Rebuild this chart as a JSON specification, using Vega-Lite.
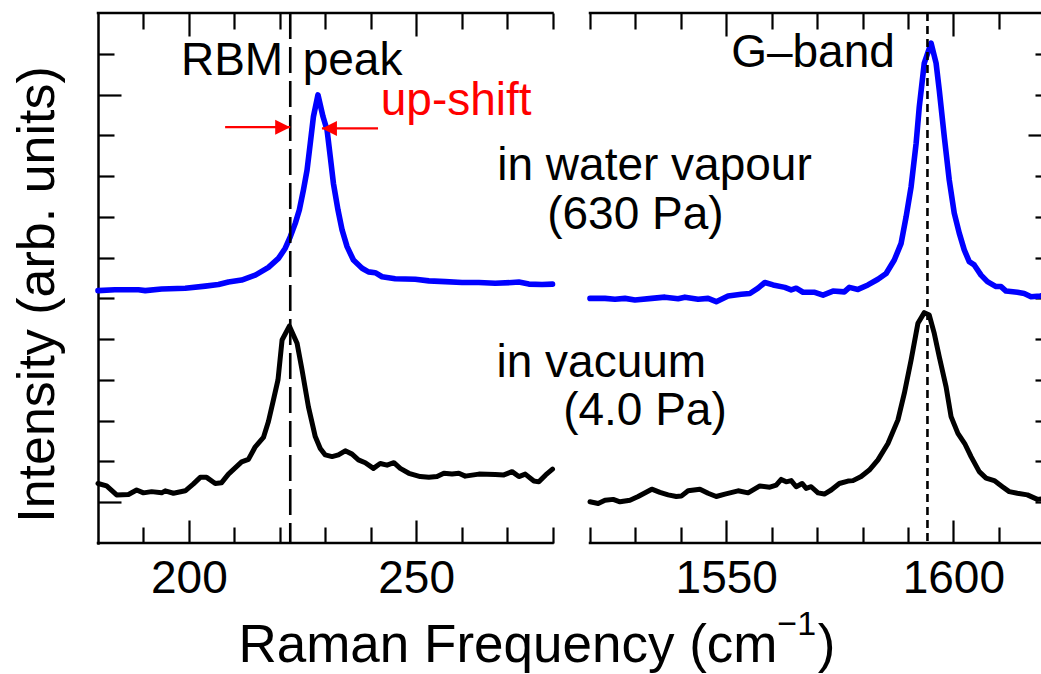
{
  "$schema": "https://vega.github.io/schema/vega-lite/v6.json",
  "width": 943,
  "height": 530,
  "autosize": {"type": "none"},
  "padding": {"left": 98, "top": 13, "right": 0, "bottom": 131},
  "background": "white",
  "config": {"view": {"stroke": null}, "font": "Liberation Sans", "axis": {"grid": false}},
  "datasets": {
    "frame": [
      {"panel": "RBM", "edge": 0, "x0": 180, "x1": 280},
      {"panel": "RBM", "edge": 13, "x0": 180, "x1": 280},
      {"panel": "G", "edge": 0, "x0": 1520, "x1": 1621.5},
      {"panel": "G", "edge": 13, "x0": 1520, "x1": 1621.5}
    ],
    "markers": [
      {"band": "RBM", "x": 222.3},
      {"band": "G", "x": 1594.3}
    ],
    "arrows": [
      {"dir": "right", "from": 207.97, "to": 222.29, "y": 10.2},
      {"dir": "left", "from": 241.61, "to": 229.27, "y": 10.17}
    ],
    "annot": [
      {"label": "RBM", "x": 209.5, "y": 11.48},
      {"label": "peak", "x": 236.0, "y": 11.48},
      {"label": "in water vapour", "x": 1534.2, "y": 8.9},
      {"label": "(630 Pa)", "x": 1530.0, "y": 7.71},
      {"label": "in vacuum", "x": 1522.5, "y": 4.08},
      {"label": "(4.0 Pa)", "x": 1532.1, "y": 2.89},
      {"label": "G\u2013band", "x": 1569.1, "y": 11.68}
    ],
    "redannot": [
      {"label": "up-shift", "x": 258.8, "y": 10.5}
    ],
    "xtitle": [
      {"label": "Raman Frequency (cm", "x": 270.2, "y": -2.92},
      {"label": ")", "x": 1572.1, "y": -2.92}
    ],
    "xtitlesup": [
      {"label": "\u22121", "x": 1565.5, "y": -2.26}
    ],
    "spectra": [
      {"panel": "RBM", "condition": "in water vapour (630 Pa)", "x": 180, "y": 6.19},
      {"panel": "RBM", "condition": "in water vapour (630 Pa)", "x": 183.7, "y": 6.21},
      {"panel": "RBM", "condition": "in water vapour (630 Pa)", "x": 188.9, "y": 6.21},
      {"panel": "RBM", "condition": "in water vapour (630 Pa)", "x": 190.4, "y": 6.19},
      {"panel": "RBM", "condition": "in water vapour (630 Pa)", "x": 194.0, "y": 6.23},
      {"panel": "RBM", "condition": "in water vapour (630 Pa)", "x": 199.2, "y": 6.25},
      {"panel": "RBM", "condition": "in water vapour (630 Pa)", "x": 203.6, "y": 6.30},
      {"panel": "RBM", "condition": "in water vapour (630 Pa)", "x": 206.5, "y": 6.34},
      {"panel": "RBM", "condition": "in water vapour (630 Pa)", "x": 208.7, "y": 6.40},
      {"panel": "RBM", "condition": "in water vapour (630 Pa)", "x": 211.6, "y": 6.45},
      {"panel": "RBM", "condition": "in water vapour (630 Pa)", "x": 214.6, "y": 6.57},
      {"panel": "RBM", "condition": "in water vapour (630 Pa)", "x": 217.5, "y": 6.76},
      {"panel": "RBM", "condition": "in water vapour (630 Pa)", "x": 219.7, "y": 6.98},
      {"panel": "RBM", "condition": "in water vapour (630 Pa)", "x": 221.2, "y": 7.23},
      {"panel": "RBM", "condition": "in water vapour (630 Pa)", "x": 222.3, "y": 7.51},
      {"panel": "RBM", "condition": "in water vapour (630 Pa)", "x": 223.4, "y": 7.84},
      {"panel": "RBM", "condition": "in water vapour (630 Pa)", "x": 224.3, "y": 8.17},
      {"panel": "RBM", "condition": "in water vapour (630 Pa)", "x": 225.2, "y": 8.66},
      {"panel": "RBM", "condition": "in water vapour (630 Pa)", "x": 226.0, "y": 9.15},
      {"panel": "RBM", "condition": "in water vapour (630 Pa)", "x": 226.7, "y": 9.80},
      {"panel": "RBM", "condition": "in water vapour (630 Pa)", "x": 227.4, "y": 10.46},
      {"panel": "RBM", "condition": "in water vapour (630 Pa)", "x": 228.4, "y": 10.99},
      {"panel": "RBM", "condition": "in water vapour (630 Pa)", "x": 229.5, "y": 10.46},
      {"panel": "RBM", "condition": "in water vapour (630 Pa)", "x": 230.4, "y": 10.13},
      {"panel": "RBM", "condition": "in water vapour (630 Pa)", "x": 231.1, "y": 9.48},
      {"panel": "RBM", "condition": "in water vapour (630 Pa)", "x": 231.8, "y": 8.82},
      {"panel": "RBM", "condition": "in water vapour (630 Pa)", "x": 232.8, "y": 8.17},
      {"panel": "RBM", "condition": "in water vapour (630 Pa)", "x": 233.7, "y": 7.68},
      {"panel": "RBM", "condition": "in water vapour (630 Pa)", "x": 234.8, "y": 7.27},
      {"panel": "RBM", "condition": "in water vapour (630 Pa)", "x": 236.2, "y": 6.94},
      {"panel": "RBM", "condition": "in water vapour (630 Pa)", "x": 238.1, "y": 6.74},
      {"panel": "RBM", "condition": "in water vapour (630 Pa)", "x": 239.5, "y": 6.65},
      {"panel": "RBM", "condition": "in water vapour (630 Pa)", "x": 241.0, "y": 6.63},
      {"panel": "RBM", "condition": "in water vapour (630 Pa)", "x": 242.5, "y": 6.53},
      {"panel": "RBM", "condition": "in water vapour (630 Pa)", "x": 245.4, "y": 6.48},
      {"panel": "RBM", "condition": "in water vapour (630 Pa)", "x": 249.8, "y": 6.47},
      {"panel": "RBM", "condition": "in water vapour (630 Pa)", "x": 252.8, "y": 6.43},
      {"panel": "RBM", "condition": "in water vapour (630 Pa)", "x": 256.4, "y": 6.41},
      {"panel": "RBM", "condition": "in water vapour (630 Pa)", "x": 260.1, "y": 6.39},
      {"panel": "RBM", "condition": "in water vapour (630 Pa)", "x": 263.8, "y": 6.39},
      {"panel": "RBM", "condition": "in water vapour (630 Pa)", "x": 267.4, "y": 6.37},
      {"panel": "RBM", "condition": "in water vapour (630 Pa)", "x": 271.1, "y": 6.39},
      {"panel": "RBM", "condition": "in water vapour (630 Pa)", "x": 272.6, "y": 6.40},
      {"panel": "RBM", "condition": "in water vapour (630 Pa)", "x": 274.8, "y": 6.35},
      {"panel": "RBM", "condition": "in water vapour (630 Pa)", "x": 277.7, "y": 6.34},
      {"panel": "RBM", "condition": "in water vapour (630 Pa)", "x": 280, "y": 6.35},
      {"panel": "RBM", "condition": "in vacuum (4.0 Pa)", "x": 180, "y": 1.46},
      {"panel": "RBM", "condition": "in vacuum (4.0 Pa)", "x": 181.9, "y": 1.40},
      {"panel": "RBM", "condition": "in vacuum (4.0 Pa)", "x": 184.1, "y": 1.18},
      {"panel": "RBM", "condition": "in vacuum (4.0 Pa)", "x": 186.7, "y": 1.19},
      {"panel": "RBM", "condition": "in vacuum (4.0 Pa)", "x": 188.5, "y": 1.30},
      {"panel": "RBM", "condition": "in vacuum (4.0 Pa)", "x": 190.0, "y": 1.23},
      {"panel": "RBM", "condition": "in vacuum (4.0 Pa)", "x": 191.8, "y": 1.26},
      {"panel": "RBM", "condition": "in vacuum (4.0 Pa)", "x": 194.0, "y": 1.23},
      {"panel": "RBM", "condition": "in vacuum (4.0 Pa)", "x": 194.8, "y": 1.28},
      {"panel": "RBM", "condition": "in vacuum (4.0 Pa)", "x": 196.6, "y": 1.22},
      {"panel": "RBM", "condition": "in vacuum (4.0 Pa)", "x": 199.2, "y": 1.28},
      {"panel": "RBM", "condition": "in vacuum (4.0 Pa)", "x": 201.0, "y": 1.45},
      {"panel": "RBM", "condition": "in vacuum (4.0 Pa)", "x": 202.5, "y": 1.61},
      {"panel": "RBM", "condition": "in vacuum (4.0 Pa)", "x": 203.9, "y": 1.61},
      {"panel": "RBM", "condition": "in vacuum (4.0 Pa)", "x": 205.8, "y": 1.46},
      {"panel": "RBM", "condition": "in vacuum (4.0 Pa)", "x": 207.2, "y": 1.48},
      {"panel": "RBM", "condition": "in vacuum (4.0 Pa)", "x": 208.7, "y": 1.69},
      {"panel": "RBM", "condition": "in vacuum (4.0 Pa)", "x": 211.6, "y": 1.99},
      {"panel": "RBM", "condition": "in vacuum (4.0 Pa)", "x": 213.1, "y": 2.05},
      {"panel": "RBM", "condition": "in vacuum (4.0 Pa)", "x": 214.6, "y": 2.36},
      {"panel": "RBM", "condition": "in vacuum (4.0 Pa)", "x": 216.4, "y": 2.59},
      {"panel": "RBM", "condition": "in vacuum (4.0 Pa)", "x": 217.5, "y": 2.98},
      {"panel": "RBM", "condition": "in vacuum (4.0 Pa)", "x": 218.6, "y": 3.51},
      {"panel": "RBM", "condition": "in vacuum (4.0 Pa)", "x": 219.6, "y": 4.00},
      {"panel": "RBM", "condition": "in vacuum (4.0 Pa)", "x": 220.5, "y": 4.98},
      {"panel": "RBM", "condition": "in vacuum (4.0 Pa)", "x": 222.1, "y": 5.32},
      {"panel": "RBM", "condition": "in vacuum (4.0 Pa)", "x": 223.8, "y": 4.90},
      {"panel": "RBM", "condition": "in vacuum (4.0 Pa)", "x": 224.9, "y": 4.24},
      {"panel": "RBM", "condition": "in vacuum (4.0 Pa)", "x": 226.3, "y": 3.34},
      {"panel": "RBM", "condition": "in vacuum (4.0 Pa)", "x": 227.8, "y": 2.61},
      {"panel": "RBM", "condition": "in vacuum (4.0 Pa)", "x": 228.9, "y": 2.32},
      {"panel": "RBM", "condition": "in vacuum (4.0 Pa)", "x": 230.0, "y": 2.16},
      {"panel": "RBM", "condition": "in vacuum (4.0 Pa)", "x": 231.5, "y": 2.12},
      {"panel": "RBM", "condition": "in vacuum (4.0 Pa)", "x": 232.9, "y": 2.16},
      {"panel": "RBM", "condition": "in vacuum (4.0 Pa)", "x": 234.4, "y": 2.26},
      {"panel": "RBM", "condition": "in vacuum (4.0 Pa)", "x": 235.9, "y": 2.18},
      {"panel": "RBM", "condition": "in vacuum (4.0 Pa)", "x": 237.3, "y": 2.04},
      {"panel": "RBM", "condition": "in vacuum (4.0 Pa)", "x": 238.8, "y": 1.97},
      {"panel": "RBM", "condition": "in vacuum (4.0 Pa)", "x": 240.6, "y": 1.83},
      {"panel": "RBM", "condition": "in vacuum (4.0 Pa)", "x": 242.1, "y": 1.95},
      {"panel": "RBM", "condition": "in vacuum (4.0 Pa)", "x": 243.6, "y": 1.91},
      {"panel": "RBM", "condition": "in vacuum (4.0 Pa)", "x": 245.1, "y": 1.97},
      {"panel": "RBM", "condition": "in vacuum (4.0 Pa)", "x": 246.5, "y": 1.83},
      {"panel": "RBM", "condition": "in vacuum (4.0 Pa)", "x": 248.4, "y": 1.71},
      {"panel": "RBM", "condition": "in vacuum (4.0 Pa)", "x": 250.9, "y": 1.63},
      {"panel": "RBM", "condition": "in vacuum (4.0 Pa)", "x": 252.8, "y": 1.61},
      {"panel": "RBM", "condition": "in vacuum (4.0 Pa)", "x": 254.6, "y": 1.63},
      {"panel": "RBM", "condition": "in vacuum (4.0 Pa)", "x": 256.1, "y": 1.71},
      {"panel": "RBM", "condition": "in vacuum (4.0 Pa)", "x": 257.9, "y": 1.69},
      {"panel": "RBM", "condition": "in vacuum (4.0 Pa)", "x": 259.4, "y": 1.71},
      {"panel": "RBM", "condition": "in vacuum (4.0 Pa)", "x": 260.8, "y": 1.64},
      {"panel": "RBM", "condition": "in vacuum (4.0 Pa)", "x": 263.8, "y": 1.69},
      {"panel": "RBM", "condition": "in vacuum (4.0 Pa)", "x": 267.4, "y": 1.68},
      {"panel": "RBM", "condition": "in vacuum (4.0 Pa)", "x": 269.3, "y": 1.67},
      {"panel": "RBM", "condition": "in vacuum (4.0 Pa)", "x": 271.1, "y": 1.75},
      {"panel": "RBM", "condition": "in vacuum (4.0 Pa)", "x": 272.6, "y": 1.63},
      {"panel": "RBM", "condition": "in vacuum (4.0 Pa)", "x": 274.0, "y": 1.69},
      {"panel": "RBM", "condition": "in vacuum (4.0 Pa)", "x": 275.9, "y": 1.52},
      {"panel": "RBM", "condition": "in vacuum (4.0 Pa)", "x": 277.0, "y": 1.50},
      {"panel": "RBM", "condition": "in vacuum (4.0 Pa)", "x": 278.5, "y": 1.67},
      {"panel": "RBM", "condition": "in vacuum (4.0 Pa)", "x": 280, "y": 1.81},
      {"panel": "G", "condition": "in water vapour (630 Pa)", "x": 1520, "y": 6.00},
      {"panel": "G", "condition": "in water vapour (630 Pa)", "x": 1523.3, "y": 6.00},
      {"panel": "G", "condition": "in water vapour (630 Pa)", "x": 1525.5, "y": 5.98},
      {"panel": "G", "condition": "in water vapour (630 Pa)", "x": 1527.7, "y": 6.00},
      {"panel": "G", "condition": "in water vapour (630 Pa)", "x": 1529.9, "y": 5.96},
      {"panel": "G", "condition": "in water vapour (630 Pa)", "x": 1533.6, "y": 6.00},
      {"panel": "G", "condition": "in water vapour (630 Pa)", "x": 1536.5, "y": 6.03},
      {"panel": "G", "condition": "in water vapour (630 Pa)", "x": 1539.4, "y": 5.99},
      {"panel": "G", "condition": "in water vapour (630 Pa)", "x": 1540.9, "y": 6.03},
      {"panel": "G", "condition": "in water vapour (630 Pa)", "x": 1543.8, "y": 5.98},
      {"panel": "G", "condition": "in water vapour (630 Pa)", "x": 1546.0, "y": 6.00},
      {"panel": "G", "condition": "in water vapour (630 Pa)", "x": 1547.8, "y": 5.92},
      {"panel": "G", "condition": "in water vapour (630 Pa)", "x": 1550.4, "y": 6.06},
      {"panel": "G", "condition": "in water vapour (630 Pa)", "x": 1553.3, "y": 6.10},
      {"panel": "G", "condition": "in water vapour (630 Pa)", "x": 1555.2, "y": 6.12},
      {"panel": "G", "condition": "in water vapour (630 Pa)", "x": 1557.0, "y": 6.25},
      {"panel": "G", "condition": "in water vapour (630 Pa)", "x": 1558.5, "y": 6.39},
      {"panel": "G", "condition": "in water vapour (630 Pa)", "x": 1560.3, "y": 6.33},
      {"panel": "G", "condition": "in water vapour (630 Pa)", "x": 1562.9, "y": 6.27},
      {"panel": "G", "condition": "in water vapour (630 Pa)", "x": 1564.3, "y": 6.21},
      {"panel": "G", "condition": "in water vapour (630 Pa)", "x": 1565.4, "y": 6.25},
      {"panel": "G", "condition": "in water vapour (630 Pa)", "x": 1566.9, "y": 6.15},
      {"panel": "G", "condition": "in water vapour (630 Pa)", "x": 1569.5, "y": 6.15},
      {"panel": "G", "condition": "in water vapour (630 Pa)", "x": 1571.3, "y": 6.08},
      {"panel": "G", "condition": "in water vapour (630 Pa)", "x": 1573.5, "y": 6.18},
      {"panel": "G", "condition": "in water vapour (630 Pa)", "x": 1576.0, "y": 6.16},
      {"panel": "G", "condition": "in water vapour (630 Pa)", "x": 1577.1, "y": 6.27},
      {"panel": "G", "condition": "in water vapour (630 Pa)", "x": 1579.0, "y": 6.22},
      {"panel": "G", "condition": "in water vapour (630 Pa)", "x": 1581.2, "y": 6.33},
      {"panel": "G", "condition": "in water vapour (630 Pa)", "x": 1583.4, "y": 6.47},
      {"panel": "G", "condition": "in water vapour (630 Pa)", "x": 1585.2, "y": 6.61},
      {"panel": "G", "condition": "in water vapour (630 Pa)", "x": 1587.0, "y": 6.94},
      {"panel": "G", "condition": "in water vapour (630 Pa)", "x": 1588.5, "y": 7.35},
      {"panel": "G", "condition": "in water vapour (630 Pa)", "x": 1589.6, "y": 8.00},
      {"panel": "G", "condition": "in water vapour (630 Pa)", "x": 1590.7, "y": 8.74},
      {"panel": "G", "condition": "in water vapour (630 Pa)", "x": 1591.8, "y": 9.80},
      {"panel": "G", "condition": "in water vapour (630 Pa)", "x": 1592.5, "y": 10.70},
      {"panel": "G", "condition": "in water vapour (630 Pa)", "x": 1593.6, "y": 11.77},
      {"panel": "G", "condition": "in water vapour (630 Pa)", "x": 1595.1, "y": 12.26},
      {"panel": "G", "condition": "in water vapour (630 Pa)", "x": 1596.2, "y": 11.77},
      {"panel": "G", "condition": "in water vapour (630 Pa)", "x": 1596.9, "y": 11.11},
      {"panel": "G", "condition": "in water vapour (630 Pa)", "x": 1598.0, "y": 9.97},
      {"panel": "G", "condition": "in water vapour (630 Pa)", "x": 1599.1, "y": 8.90},
      {"panel": "G", "condition": "in water vapour (630 Pa)", "x": 1600.2, "y": 8.09},
      {"panel": "G", "condition": "in water vapour (630 Pa)", "x": 1601.3, "y": 7.60},
      {"panel": "G", "condition": "in water vapour (630 Pa)", "x": 1602.4, "y": 7.19},
      {"panel": "G", "condition": "in water vapour (630 Pa)", "x": 1603.5, "y": 6.90},
      {"panel": "G", "condition": "in water vapour (630 Pa)", "x": 1604.6, "y": 6.82},
      {"panel": "G", "condition": "in water vapour (630 Pa)", "x": 1606.1, "y": 6.57},
      {"panel": "G", "condition": "in water vapour (630 Pa)", "x": 1607.5, "y": 6.41},
      {"panel": "G", "condition": "in water vapour (630 Pa)", "x": 1609.4, "y": 6.29},
      {"panel": "G", "condition": "in water vapour (630 Pa)", "x": 1610.5, "y": 6.29},
      {"panel": "G", "condition": "in water vapour (630 Pa)", "x": 1611.6, "y": 6.18},
      {"panel": "G", "condition": "in water vapour (630 Pa)", "x": 1614.1, "y": 6.15},
      {"panel": "G", "condition": "in water vapour (630 Pa)", "x": 1615.6, "y": 6.12},
      {"panel": "G", "condition": "in water vapour (630 Pa)", "x": 1617.1, "y": 6.04},
      {"panel": "G", "condition": "in water vapour (630 Pa)", "x": 1619.1, "y": 6.06},
      {"panel": "G", "condition": "in water vapour (630 Pa)", "x": 1621.5, "y": 6.10},
      {"panel": "G", "condition": "in vacuum (4.0 Pa)", "x": 1520, "y": 1.01},
      {"panel": "G", "condition": "in vacuum (4.0 Pa)", "x": 1521.8, "y": 0.97},
      {"panel": "G", "condition": "in vacuum (4.0 Pa)", "x": 1523.3, "y": 1.05},
      {"panel": "G", "condition": "in vacuum (4.0 Pa)", "x": 1525.1, "y": 1.07},
      {"panel": "G", "condition": "in vacuum (4.0 Pa)", "x": 1526.6, "y": 1.01},
      {"panel": "G", "condition": "in vacuum (4.0 Pa)", "x": 1528.8, "y": 1.05},
      {"panel": "G", "condition": "in vacuum (4.0 Pa)", "x": 1530.6, "y": 1.14},
      {"panel": "G", "condition": "in vacuum (4.0 Pa)", "x": 1533.6, "y": 1.32},
      {"panel": "G", "condition": "in vacuum (4.0 Pa)", "x": 1535.4, "y": 1.24},
      {"panel": "G", "condition": "in vacuum (4.0 Pa)", "x": 1537.2, "y": 1.18},
      {"panel": "G", "condition": "in vacuum (4.0 Pa)", "x": 1539.0, "y": 1.14},
      {"panel": "G", "condition": "in vacuum (4.0 Pa)", "x": 1540.1, "y": 1.15},
      {"panel": "G", "condition": "in vacuum (4.0 Pa)", "x": 1541.6, "y": 1.28},
      {"panel": "G", "condition": "in vacuum (4.0 Pa)", "x": 1544.2, "y": 1.32},
      {"panel": "G", "condition": "in vacuum (4.0 Pa)", "x": 1546.0, "y": 1.22},
      {"panel": "G", "condition": "in vacuum (4.0 Pa)", "x": 1547.8, "y": 1.14},
      {"panel": "G", "condition": "in vacuum (4.0 Pa)", "x": 1549.7, "y": 1.20},
      {"panel": "G", "condition": "in vacuum (4.0 Pa)", "x": 1552.6, "y": 1.28},
      {"panel": "G", "condition": "in vacuum (4.0 Pa)", "x": 1554.8, "y": 1.23},
      {"panel": "G", "condition": "in vacuum (4.0 Pa)", "x": 1557.4, "y": 1.40},
      {"panel": "G", "condition": "in vacuum (4.0 Pa)", "x": 1559.6, "y": 1.37},
      {"panel": "G", "condition": "in vacuum (4.0 Pa)", "x": 1561.0, "y": 1.42},
      {"panel": "G", "condition": "in vacuum (4.0 Pa)", "x": 1562.1, "y": 1.56},
      {"panel": "G", "condition": "in vacuum (4.0 Pa)", "x": 1563.2, "y": 1.50},
      {"panel": "G", "condition": "in vacuum (4.0 Pa)", "x": 1564.3, "y": 1.53},
      {"panel": "G", "condition": "in vacuum (4.0 Pa)", "x": 1565.4, "y": 1.38},
      {"panel": "G", "condition": "in vacuum (4.0 Pa)", "x": 1566.7, "y": 1.46},
      {"panel": "G", "condition": "in vacuum (4.0 Pa)", "x": 1567.6, "y": 1.34},
      {"panel": "G", "condition": "in vacuum (4.0 Pa)", "x": 1568.7, "y": 1.38},
      {"panel": "G", "condition": "in vacuum (4.0 Pa)", "x": 1570.2, "y": 1.23},
      {"panel": "G", "condition": "in vacuum (4.0 Pa)", "x": 1571.6, "y": 1.20},
      {"panel": "G", "condition": "in vacuum (4.0 Pa)", "x": 1573.1, "y": 1.30},
      {"panel": "G", "condition": "in vacuum (4.0 Pa)", "x": 1574.9, "y": 1.46},
      {"panel": "G", "condition": "in vacuum (4.0 Pa)", "x": 1576.8, "y": 1.52},
      {"panel": "G", "condition": "in vacuum (4.0 Pa)", "x": 1577.9, "y": 1.53},
      {"panel": "G", "condition": "in vacuum (4.0 Pa)", "x": 1579.7, "y": 1.63},
      {"panel": "G", "condition": "in vacuum (4.0 Pa)", "x": 1581.5, "y": 1.79},
      {"panel": "G", "condition": "in vacuum (4.0 Pa)", "x": 1583.4, "y": 2.04},
      {"panel": "G", "condition": "in vacuum (4.0 Pa)", "x": 1585.6, "y": 2.44},
      {"panel": "G", "condition": "in vacuum (4.0 Pa)", "x": 1587.8, "y": 3.02},
      {"panel": "G", "condition": "in vacuum (4.0 Pa)", "x": 1589.2, "y": 3.67},
      {"panel": "G", "condition": "in vacuum (4.0 Pa)", "x": 1590.7, "y": 4.49},
      {"panel": "G", "condition": "in vacuum (4.0 Pa)", "x": 1592.2, "y": 5.39},
      {"panel": "G", "condition": "in vacuum (4.0 Pa)", "x": 1593.6, "y": 5.65},
      {"panel": "G", "condition": "in vacuum (4.0 Pa)", "x": 1594.7, "y": 5.59},
      {"panel": "G", "condition": "in vacuum (4.0 Pa)", "x": 1595.8, "y": 5.14},
      {"panel": "G", "condition": "in vacuum (4.0 Pa)", "x": 1596.9, "y": 4.57},
      {"panel": "G", "condition": "in vacuum (4.0 Pa)", "x": 1598.4, "y": 3.83},
      {"panel": "G", "condition": "in vacuum (4.0 Pa)", "x": 1599.5, "y": 3.10},
      {"panel": "G", "condition": "in vacuum (4.0 Pa)", "x": 1601.0, "y": 2.69},
      {"panel": "G", "condition": "in vacuum (4.0 Pa)", "x": 1602.5, "y": 2.44},
      {"panel": "G", "condition": "in vacuum (4.0 Pa)", "x": 1603.9, "y": 2.12},
      {"panel": "G", "condition": "in vacuum (4.0 Pa)", "x": 1605.7, "y": 1.75},
      {"panel": "G", "condition": "in vacuum (4.0 Pa)", "x": 1607.2, "y": 1.59},
      {"panel": "G", "condition": "in vacuum (4.0 Pa)", "x": 1609.0, "y": 1.53},
      {"panel": "G", "condition": "in vacuum (4.0 Pa)", "x": 1610.8, "y": 1.38},
      {"panel": "G", "condition": "in vacuum (4.0 Pa)", "x": 1612.3, "y": 1.26},
      {"panel": "G", "condition": "in vacuum (4.0 Pa)", "x": 1614.1, "y": 1.22},
      {"panel": "G", "condition": "in vacuum (4.0 Pa)", "x": 1616.3, "y": 1.18},
      {"panel": "G", "condition": "in vacuum (4.0 Pa)", "x": 1618.5, "y": 1.07},
      {"panel": "G", "condition": "in vacuum (4.0 Pa)", "x": 1620.7, "y": 1.10}
    ]
  },
  "resolve": {"axis": {"x": "independent", "y": "independent"}},
  "layer": [
    {
      "data": {"name": "frame"},
      "mark": {"type": "rule", "stroke": "black", "strokeWidth": 2.5, "strokeCap": "square"},
      "encoding": {
        "x": {
          "field": "x0", "type": "quantitative",
          "scale": {"domain": [180, 280, 1520, 1621.5], "range": [0, 454.5, 492, 953], "nice": false, "zero": false},
          "axis": {
            "orient": "bottom",
            "values": [190, 200, 210, 220, 230, 240, 250, 260, 270, 280, 1520, 1530, 1540, 1550, 1560, 1570, 1580, 1590, 1600, 1610, 1620],
            "domain": false, "grid": false,
            "tickColor": "black", "tickWidth": 2.2,
            "tickSize": {"condition": {"test": "datum.value == 200 || datum.value == 250 || datum.value == 1550 || datum.value == 1600", "value": -23}, "value": -16},
            "format": "d",
            "labelExpr": "(datum.value == 200 || datum.value == 250 || datum.value == 1550 || datum.value == 1600) ? datum.label : ''",
            "labelFont": "Liberation Sans", "labelFontSize": 46, "labelColor": "black",
            "labelPadding": 36.5, "labelOverlap": false, "labelFlush": false,
            "title": null
          }
        },
        "x2": {"field": "x1"},
        "y": {
          "field": "edge", "type": "quantitative",
          "scale": {"domain": [0, 13], "nice": false, "zero": false},
          "axis": {
            "orient": "left",
            "values": [1, 2, 3, 4, 5, 6, 7, 8, 9, 10, 11, 12],
            "domain": true, "domainColor": "black", "domainWidth": 2.5, "domainCap": "square",
            "grid": false, "labels": false,
            "tickColor": "black", "tickWidth": 2.2,
            "tickSize": {"condition": {"test": "datum.value == 1 || datum.value == 11", "value": -23}, "value": -16},
            "title": "Intensity (arb. units)",
            "titleFont": "Liberation Sans", "titleFontSize": 52, "titleFontWeight": "normal", "titleColor": "black",
            "titlePadding": 32, "titleY": 281
          }
        }
      }
    },
    {
      "data": {"name": "spectra"},
      "mark": {"type": "line", "strokeJoin": "round", "strokeCap": "round"},
      "encoding": {
        "x": {
          "field": "x", "type": "quantitative",
          "scale": {"domain": [180, 280, 1520, 1621.5], "range": [0, 454.5, 492, 953], "nice": false, "zero": false},
          "axis": {
            "orient": "top",
            "values": [190, 200, 210, 220, 230, 240, 250, 260, 270, 280, 1520, 1530, 1540, 1550, 1560, 1570, 1580, 1590, 1600, 1610, 1620],
            "domain": false, "grid": false, "labels": false,
            "tickColor": "black", "tickWidth": 2.2,
            "tickSize": {"condition": {"test": "datum.value == 200 || datum.value == 250 || datum.value == 1550 || datum.value == 1600", "value": -23}, "value": -16},
            "title": null
          }
        },
        "y": {
          "field": "y", "type": "quantitative",
          "scale": {"domain": [0, 13], "nice": false, "zero": false},
          "axis": {
            "orient": "right", "offset": 10,
            "values": [1, 2, 3, 4, 5, 6, 7, 8, 9, 10, 11, 12],
            "domain": true, "domainColor": "black", "domainWidth": 2.5,
            "grid": false, "labels": false,
            "tickColor": "black", "tickWidth": 2.2,
            "tickSize": {"condition": {"test": "datum.value == 10", "value": -23}, "value": -16},
            "title": null
          }
        },
        "color": {
          "field": "condition", "type": "nominal",
          "scale": {"domain": ["in water vapour (630 Pa)", "in vacuum (4.0 Pa)"], "range": ["#0000ff", "#000000"]},
          "legend": null
        },
        "strokeWidth": {
          "field": "condition", "type": "nominal",
          "scale": {"domain": ["in water vapour (630 Pa)", "in vacuum (4.0 Pa)"], "range": [5.6, 5.0]},
          "legend": null
        },
        "detail": {"field": "panel"}
      }
    },
    {
      "data": {"name": "markers"},
      "mark": {"type": "rule", "stroke": "black", "strokeWidth": 2.6},
      "encoding": {
        "x": {"field": "x", "type": "quantitative", "scale": {"domain": [180, 280, 1520, 1621.5], "range": [0, 454.5, 492, 953], "nice": false, "zero": false}, "axis": null},
        "strokeDash": {"field": "band", "type": "nominal", "scale": {"domain": ["RBM", "G"], "range": [[26, 8], [8, 5]]}, "legend": null}
      }
    },
    {
      "data": {"name": "arrows"},
      "mark": {"type": "rule", "stroke": "#ff0000", "strokeWidth": 2.2},
      "encoding": {
        "x": {"field": "from", "type": "quantitative", "scale": {"domain": [180, 280, 1520, 1621.5], "range": [0, 454.5, 492, 953], "nice": false, "zero": false}, "axis": null},
        "x2": {"field": "to"},
        "y": {"field": "y", "type": "quantitative", "scale": {"domain": [0, 13], "nice": false, "zero": false}, "axis": null}
      }
    },
    {
      "data": {"name": "arrows"},
      "mark": {"type": "point", "filled": true, "fill": "#ff0000", "fillOpacity": 1, "strokeWidth": 0, "size": 900},
      "encoding": {
        "x": {"field": "to", "type": "quantitative", "scale": {"domain": [180, 280, 1520, 1621.5], "range": [0, 454.5, 492, 953], "nice": false, "zero": false}, "axis": null},
        "y": {"field": "y", "type": "quantitative", "scale": {"domain": [0, 13], "nice": false, "zero": false}, "axis": null},
        "shape": {"field": "dir", "type": "nominal", "scale": {"domain": ["right", "left"], "range": ["M0,0L-1,-0.5L-1,0.5Z", "M0,0L1,-0.5L1,0.5Z"]}, "legend": null}
      }
    },
    {
      "data": {"name": "annot"},
      "mark": {"type": "text", "align": "center", "baseline": "alphabetic", "font": "Liberation Sans", "fontSize": 46, "color": "black"},
      "encoding": {
        "x": {"field": "x", "type": "quantitative", "scale": {"domain": [180, 280, 1520, 1621.5], "range": [0, 454.5, 492, 953], "nice": false, "zero": false}, "axis": null},
        "y": {"field": "y", "type": "quantitative", "scale": {"domain": [0, 13], "nice": false, "zero": false}, "axis": null},
        "text": {"field": "label"}
      }
    },
    {
      "data": {"name": "redannot"},
      "mark": {"type": "text", "align": "center", "baseline": "alphabetic", "font": "Liberation Sans", "fontSize": 46, "color": "#ff0000"},
      "encoding": {
        "x": {"field": "x", "type": "quantitative", "scale": {"domain": [180, 280, 1520, 1621.5], "range": [0, 454.5, 492, 953], "nice": false, "zero": false}, "axis": null},
        "y": {"field": "y", "type": "quantitative", "scale": {"domain": [0, 13], "nice": false, "zero": false}, "axis": null},
        "text": {"field": "label"}
      }
    },
    {
      "data": {"name": "xtitle"},
      "mark": {"type": "text", "align": "center", "baseline": "alphabetic", "font": "Liberation Sans", "fontSize": 53, "color": "black"},
      "encoding": {
        "x": {"field": "x", "type": "quantitative", "scale": {"domain": [180, 280, 1520, 1621.5], "range": [0, 454.5, 492, 953], "nice": false, "zero": false}, "axis": null},
        "y": {"field": "y", "type": "quantitative", "scale": {"domain": [0, 13], "nice": false, "zero": false}, "axis": null},
        "text": {"field": "label"}
      }
    },
    {
      "data": {"name": "xtitlesup"},
      "mark": {"type": "text", "align": "center", "baseline": "alphabetic", "font": "Liberation Sans", "fontSize": 34, "color": "black"},
      "encoding": {
        "x": {"field": "x", "type": "quantitative", "scale": {"domain": [180, 280, 1520, 1621.5], "range": [0, 454.5, 492, 953], "nice": false, "zero": false}, "axis": null},
        "y": {"field": "y", "type": "quantitative", "scale": {"domain": [0, 13], "nice": false, "zero": false}, "axis": null},
        "text": {"field": "label"}
      }
    }
  ]
}
